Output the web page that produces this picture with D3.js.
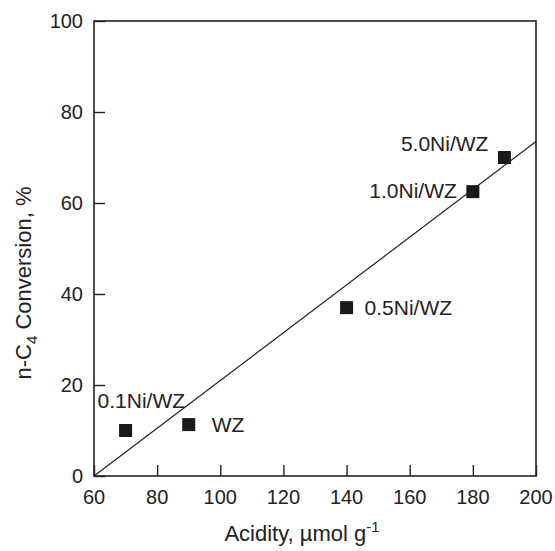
<!DOCTYPE html>
<html>
<head>
<meta charset="utf-8">
<script src="https://cdn.jsdelivr.net/npm/d3@7"></script>
<style>
body { margin: 0; background: #fff; }
text { font-family: "Liberation Sans", Arial, sans-serif; fill: #222; }
</style>
</head>
<body>
<div id="chart"></div>
<script>
var width = 555;
var height = 551;
var margin = {top: 21, right: 19, bottom: 75, left: 94};

// samples
var samples = ["0.1Ni/WZ", "WZ", "0.5Ni/WZ", "1.0Ni/WZ", "5.0Ni/WZ"];
var acidity = [70, 90, 140, 180, 190];
var conversion = [10, 11.3, 37, 62.5, 70];

// fitted line end points
var fitX = [60, 200];
var fitY = [0, 73.5];

var xTicks = [60, 80, 100, 120, 140, 160, 180, 200];
var yTicks = [0, 20, 40, 60, 80, 100];

var svg = d3.select("#chart").append("svg")
    .attr("width", width)
    .attr("height", height);

var x = d3.scaleLinear().domain([60, 200]).range([margin.left, width - margin.right]);
var y = d3.scaleLinear().domain([0, 100]).range([height - margin.bottom, margin.top]);

// frame
svg.append("rect")
    .attr("x", x(60))
    .attr("y", y(100))
    .attr("width", x(200) - x(60))
    .attr("height", y(0) - y(100))
    .attr("fill", "none")
    .attr("stroke", "#222")
    .attr("stroke-width", 1.6);

// minor ticks (inward)
var xAxis = svg.append("g")
    .attr("transform", "translate(0," + y(0) + ")");
xAxis.call(d3.axisTop(x).tickValues(d3.range(70, 200, 20)).tickSize(6).tickFormat(""));
xAxis.call(d3.axisTop(x).tickValues(xTicks).tickSize(11).tickFormat(""));
xAxis.selectAll(".domain").remove();
xAxis.selectAll("line").attr("stroke", "#222").attr("stroke-width", 1.4);

var yAxis = svg.append("g")
    .attr("transform", "translate(" + x(60) + ",0)");
yAxis.call(d3.axisRight(y).tickValues(d3.range(10, 100, 20)).tickSize(6).tickFormat(""));
yAxis.call(d3.axisRight(y).tickValues(yTicks).tickSize(11).tickFormat(""));
yAxis.selectAll(".domain").remove();
yAxis.selectAll("line").attr("stroke", "#222").attr("stroke-width", 1.4);

// tick labels
svg.append("g").selectAll("text")
    .data(xTicks)
    .enter().append("text")
    .attr("x", function(d) { return x(d); })
    .attr("y", y(0) + 28)
    .attr("text-anchor", "middle")
    .style("font-size", "20px")
    .text(function(d) { return d; });

svg.append("g").selectAll("text")
    .data(yTicks)
    .enter().append("text")
    .attr("x", x(60) - 11)
    .attr("y", function(d) { return y(d); })
    .attr("dy", "0.35em")
    .attr("text-anchor", "end")
    .style("font-size", "20px")
    .text(function(d) { return d; });

// axis titles
var xt = svg.append("text")
    .attr("x", 302)
    .attr("y", 541)
    .attr("text-anchor", "middle")
    .style("font-size", "22px");
xt.append("tspan").text("Acidity, \u00b5mol g");
xt.append("tspan").attr("dy", -9).style("font-size", "15px").text("-1");

var yt = svg.append("text")
    .attr("transform", "translate(31,283) rotate(-90)")
    .attr("text-anchor", "middle")
    .style("font-size", "22px");
yt.append("tspan").text("n-C");
yt.append("tspan").attr("dy", 6).style("font-size", "15px").text("4");
yt.append("tspan").attr("dy", -6).text(" Conversion, %");

// fit line
svg.append("line")
    .attr("x1", x(fitX[0])).attr("y1", y(fitY[0]))
    .attr("x2", x(fitX[1])).attr("y2", y(fitY[1]))
    .attr("stroke", "#222")
    .attr("stroke-width", 1.2);

// points
var s = 13;
svg.append("g").selectAll("rect")
    .data(acidity)
    .enter().append("rect")
    .attr("x", function(d) { return x(d) - s / 2; })
    .attr("y", function(d, i) { return y(conversion[i]) - s / 2; })
    .attr("width", s)
    .attr("height", s)
    .attr("fill", "#1a1a1a");

// labels: offset per sample [dx, dy, anchor]
var labelPos = [[-28, -30, "start"], [23, 0, "start"], [18, 0, "start"], [-16, -1, "end"], [-16, -14, "end"]];
svg.append("g").selectAll("text")
    .data(samples)
    .enter().append("text")
    .attr("x", function(d, i) { return x(acidity[i]) + labelPos[i][0]; })
    .attr("y", function(d, i) { return y(conversion[i]) + labelPos[i][1]; })
    .attr("dy", "0.35em")
    .attr("text-anchor", function(d, i) { return labelPos[i][2]; })
    .style("font-size", "21px")
    .text(function(d) { return d; });
</script>
</body>
</html>
